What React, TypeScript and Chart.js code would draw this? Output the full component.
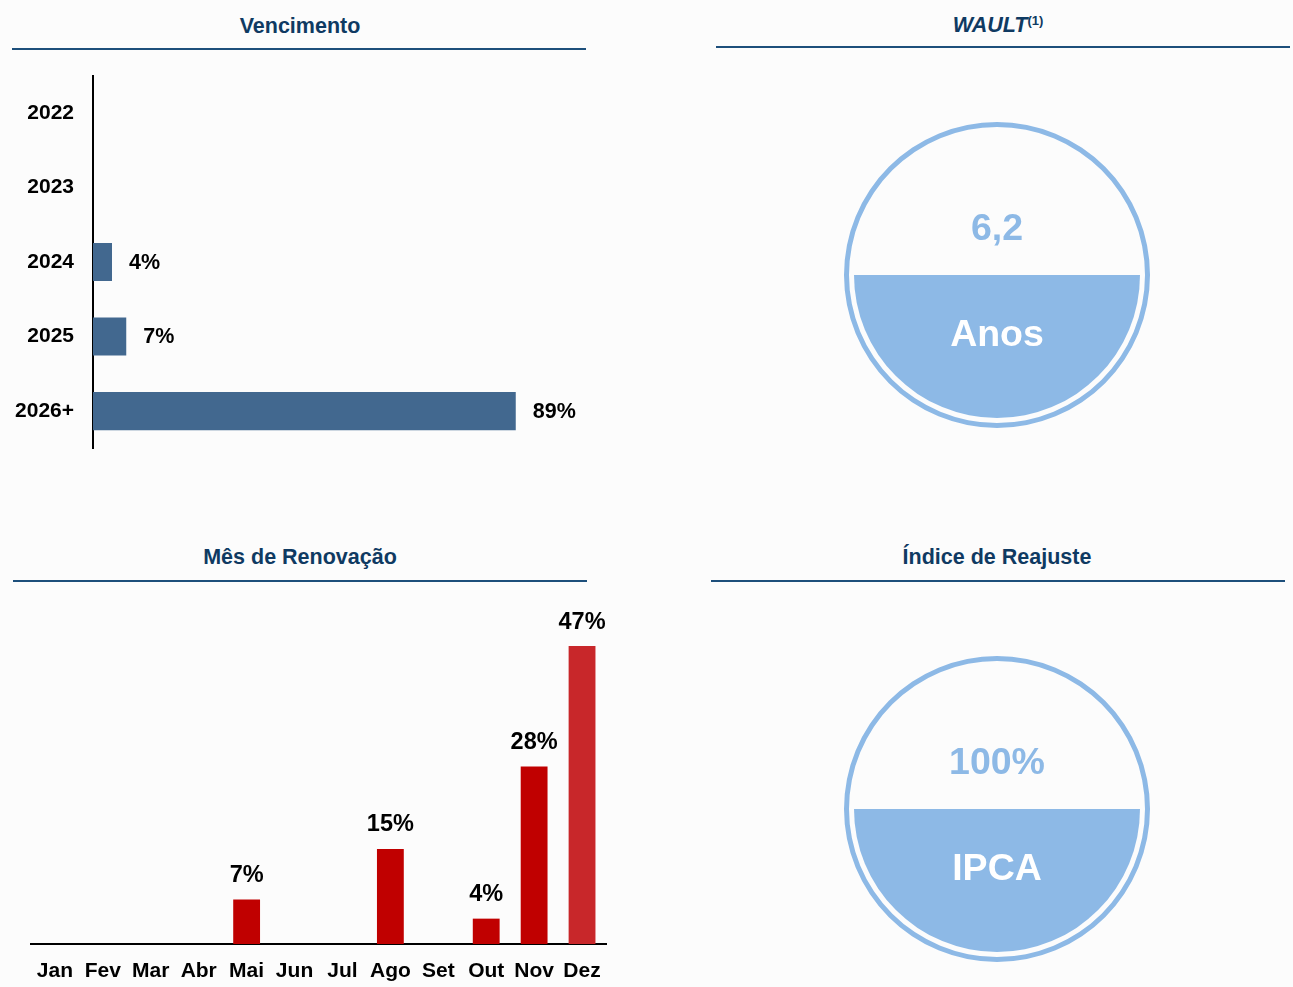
import React, { useEffect, useRef } from "react";
import { Chart, registerables } from "chart.js";

Chart.register(...registerables);

const FONT = '"Liberation Sans", Arial, Helvetica, sans-serif';

// ---- data ----
const vencYears = ["2022", "2023", "2024", "2025", "2026+"];
const vencShares = [0, 0, 4, 7, 89];

const months = ["Jan", "Fev", "Mar", "Abr", "Mai", "Jun", "Jul", "Ago", "Set", "Out", "Nov", "Dez"];
const renovShares = [0, 0, 0, 0, 7, 0, 0, 15, 0, 4, 28, 47];

const waultValue = "6,2";
const waultUnit = "Anos";
const reajusteValue = "100%";
const reajusteIndex = "IPCA";
const gaugeHalves = [1, 1];

// ---- styles ----
const TITLE_COLOR = "#0f3a62";
const RULE_COLOR = "#1d4f7b";
const BAR_BLUE = "#42688f";
const BAR_RED = "#c00000";
const BAR_RED_LAST = "#c8272a";
const CIRCLE = "#8db9e6";
const BG = "#fcfcfc";

function valueLabels(mode: "h" | "v") {
  return {
    id: "valueLabels",
    afterDatasetsDraw(chart: any) {
      const ctx = chart.ctx;
      const meta = chart.getDatasetMeta(0);
      const data = chart.data.datasets[0].data as number[];
      ctx.save();
      ctx.fillStyle = "#000";
      meta.data.forEach((el: any, i: number) => {
        const v = data[i];
        if (!v) return;
        if (mode === "h") {
          ctx.font = `bold 21.5px ${FONT}`;
          ctx.textAlign = "left";
          ctx.textBaseline = "middle";
          ctx.fillText(`${v}%`, el.x + 17, el.y + 1);
        } else {
          ctx.font = `bold 23.5px ${FONT}`;
          ctx.textAlign = "center";
          ctx.textBaseline = "middle";
          ctx.fillText(`${v}%`, el.x, el.y - 24);
        }
      });
      ctx.restore();
    },
  };
}

function HBar() {
  const ref = useRef<HTMLCanvasElement>(null);
  useEffect(() => {
    const chart = new Chart(ref.current!, {
      type: "bar",
      data: {
        labels: vencYears,
        datasets: [
          {
            data: vencShares,
            backgroundColor: BAR_BLUE,
            borderWidth: 0,
            barPercentage: 0.51,
            categoryPercentage: 1,
          },
        ],
      },
      options: {
        indexAxis: "y",
        animation: false,
        responsive: false,
        maintainAspectRatio: false,
        layout: { padding: { top: 0, bottom: 0, right: 32, left: 0 } },
        plugins: { legend: { display: false }, tooltip: { enabled: false } },
        scales: {
          x: { display: false, min: 0, max: 100 },
          y: {
            grid: { display: false, drawTicks: false },
            border: { display: true, color: "#000", width: 2 },
            ticks: { color: "#000", font: { family: FONT, size: 21, weight: "bold" }, padding: 19 },
            afterFit: (s: any) => {
              s.width = 93;
            },
          },
        },
      } as any,
      plugins: [valueLabels("h")],
    });
    return () => chart.destroy();
  }, []);
  return (
    <canvas
      ref={ref}
      width={600}
      height={436}
      style={{ position: "absolute", left: 0, top: 44, width: 600, height: 436 }}
    />
  );
}

function VBar() {
  const ref = useRef<HTMLCanvasElement>(null);
  useEffect(() => {
    const chart = new Chart(ref.current!, {
      type: "bar",
      data: {
        labels: months,
        datasets: [
          {
            data: renovShares,
            backgroundColor: months.map((m, i) => (i === months.length - 1 ? BAR_RED_LAST : BAR_RED)),
            borderWidth: 0,
            barPercentage: 0.56,
            categoryPercentage: 1,
          },
        ],
      },
      options: {
        animation: false,
        responsive: false,
        maintainAspectRatio: false,
        layout: { padding: { top: 37, bottom: 0, right: 14, left: 31 } },
        plugins: { legend: { display: false }, tooltip: { enabled: false } },
        scales: {
          y: { display: false, min: 0, max: 50 },
          x: {
            grid: { display: false, drawTicks: false },
            border: { display: true, color: "#000", width: 2 },
            ticks: { color: "#000", font: { family: FONT, size: 21, weight: "bold" }, padding: 15, maxRotation: 0, autoSkip: false },
            afterFit: (s: any) => {
              s.height = 43;
            },
          },
        },
      } as any,
      plugins: [valueLabels("v")],
    });
    return () => chart.destroy();
  }, []);
  return (
    <canvas
      ref={ref}
      width={620}
      height={397}
      style={{ position: "absolute", left: 0, top: 590, width: 620, height: 397 }}
    />
  );
}

function Gauge({ cx, cy, top, bottom }: { cx: number; cy: number; top: string; bottom: string }) {
  const ref = useRef<HTMLCanvasElement>(null);
  const R = 153;
  useEffect(() => {
    const chart = new Chart(ref.current!, {
      type: "doughnut",
      data: {
        datasets: [
          { data: [1], backgroundColor: [CIRCLE], weight: 5, borderWidth: 0 },
          { data: [1], backgroundColor: ["rgba(0,0,0,0)"], weight: 5, borderWidth: 0 },
          { data: gaugeHalves, backgroundColor: [CIRCLE, "rgba(0,0,0,0)"], weight: 143, borderWidth: 0 },
        ],
      } as any,
      options: {
        animation: false,
        responsive: false,
        maintainAspectRatio: false,
        cutout: 0,
        rotation: 90,
        radius: R,
        hoverOffset: 0,
        offset: 0,
        spacing: 0,
        layout: { padding: 0 },
        plugins: { legend: { display: false }, tooltip: { enabled: false } },
      } as any,
    });
    return () => chart.destroy();
  }, []);
  const textStyle: React.CSSProperties = {
    position: "absolute",
    left: cx - 150,
    width: 300,
    textAlign: "center",
    fontFamily: FONT,
    fontWeight: "bold",
    fontSize: 37.5,
    lineHeight: "40px",
  };
  return (
    <>
      <canvas
        ref={ref}
        width={2 * R}
        height={2 * R}
        style={{ position: "absolute", left: cx - R, top: cy - R, width: 2 * R, height: 2 * R }}
      />
      <div style={{ ...textStyle, top: cy - 48 - 20, color: CIRCLE }}>{top}</div>
      <div style={{ ...textStyle, top: cy + 58 - 20, color: "#fff" }}>{bottom}</div>
    </>
  );
}

function Title({ cx, cy, x1, x2, ly, children }: { cx: number; cy: number; x1: number; x2: number; ly: number; children: React.ReactNode }) {
  return (
    <>
      <div
        style={{
          position: "absolute",
          left: cx - 250,
          width: 500,
          top: cy - 12,
          lineHeight: "24px",
          textAlign: "center",
          fontFamily: FONT,
          fontWeight: "bold",
          fontSize: 21.5,
          color: TITLE_COLOR,
          whiteSpace: "nowrap",
        }}
      >
        {children}
      </div>
      <div style={{ position: "absolute", left: x1, width: x2 - x1, top: ly - 1, height: 2, background: RULE_COLOR }} />
    </>
  );
}

export default function App() {
  return (
    <div style={{ position: "absolute", left: 0, top: 0, width: 1293, height: 987, background: BG, overflow: "hidden" }}>
      <Title cx={300} cy={26} x1={12} x2={586} ly={49}>
        Vencimento
      </Title>
      <Title cx={998} cy={25} x1={716} x2={1290} ly={47}>
        <span style={{ fontStyle: "italic" }}>WAULT</span>
        <span style={{ fontSize: 13, fontStyle: "normal", verticalAlign: "top", lineHeight: "14px", position: "relative", top: 1 }}>(1)</span>
      </Title>
      <Title cx={300} cy={557} x1={13} x2={587} ly={581}>
        Mês de Renovação
      </Title>
      <Title cx={997} cy={557} x1={711} x2={1285} ly={581}>
        Índice de Reajuste
      </Title>
      <HBar />
      <VBar />
      <Gauge cx={997} cy={275} top={waultValue} bottom={waultUnit} />
      <Gauge cx={997} cy={809} top={reajusteValue} bottom={reajusteIndex} />
    </div>
  );
}
